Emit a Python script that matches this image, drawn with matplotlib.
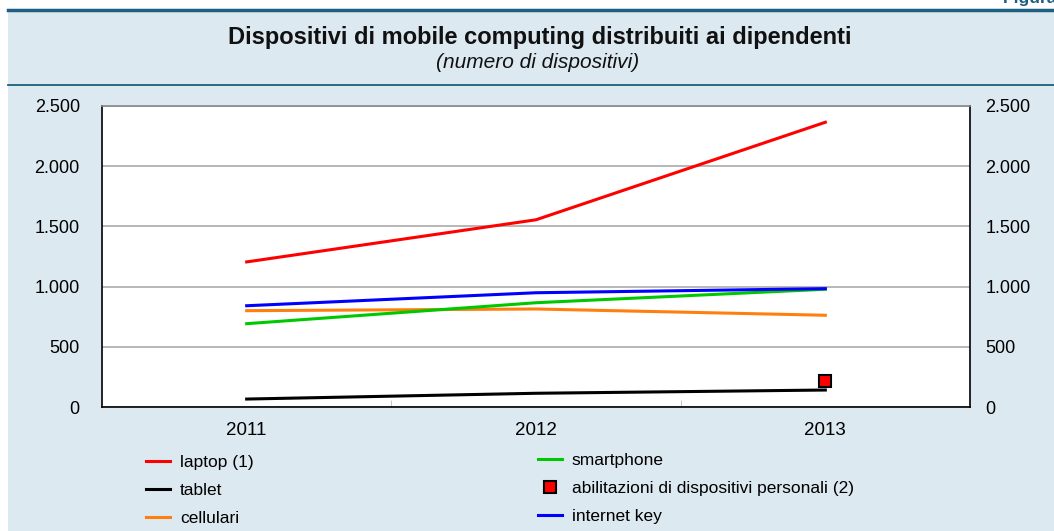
import matplotlib
matplotlib.use("Agg")
import matplotlib.pyplot as plt
from matplotlib.lines import Line2D
from matplotlib.patches import Rectangle

plt.rcParams['font.family'] = ['Liberation Sans', 'DejaVu Sans']

years = ["2011", "2012", "2013"]
laptop = [1205, 1555, 2365]
tablet = [66, 114, 141]
cellulari = [800, 814, 762]
smartphone = [692, 866, 978]
internet_key = [841, 949, 983]
abilitazioni_year = "2013"
abilitazioni = [213]
y_ticks = [0, 500, 1000, 1500, 2000, 2500]
y_tick_labels = ["0", "500", "1.000", "1.500", "2.000", "2.500"]

W, H = 1054, 531
fig = plt.figure(figsize=(W / 100, H / 100), dpi=100)
fig.patch.set_facecolor("white")

teal = "#1d5f80"
bg = "#dde9f1"
# background panel
fig.add_artist(Rectangle((8 / W, 0), 1 - 8 / W, 1 - 10 / H, transform=fig.transFigure,
                         facecolor=bg, edgecolor="none", zorder=-5))
fig.add_artist(Line2D([8 / W, 1], [1 - 10 / H, 1 - 10 / H], transform=fig.transFigure,
                      color=teal, lw=2.5, zorder=-4))
fig.add_artist(Line2D([8 / W, 1], [1 - 84.5 / H, 1 - 84.5 / H], transform=fig.transFigure,
                      color=teal, lw=1.3, zorder=-4))
fig.text(1003 / W, 1 + 1 / H, "Figura 4.", color=teal, fontsize=12.5, fontweight="bold",
         ha="left", va="center")

fig.text(540 / W, 1 - 37 / H, "Dispositivi di mobile computing distribuiti ai dipendenti",
         ha="center", va="center", fontsize=17, fontweight="bold", color="#111111")
fig.text(538 / W, 1 - 62 / H, "(numero di dispositivi)", ha="center", va="center",
         fontsize=15, style="italic", color="#111111")

left, right, top, bottom = 102, 970, 106, 407
ax = fig.add_axes([left / W, 1 - bottom / H, (right - left) / W, (bottom - top) / H])
ax.set_facecolor("white")

x = list(range(len(years)))
lw = 2.2
ax.plot(x, laptop, color="#ff0000", lw=lw, label="laptop (1)", zorder=3)
ax.plot(x, tablet, color="#000000", lw=lw, label="tablet", zorder=3)
ax.plot(x, cellulari, color="#ff7f0e", lw=lw, label="cellulari", zorder=3)
ax.plot(x, smartphone, color="#00c800", lw=lw, label="smartphone", zorder=3)
ax.plot(x, internet_key, color="#0000ff", lw=lw, label="internet key", zorder=4)
ax.plot([years.index(abilitazioni_year)], abilitazioni, linestyle="none", marker="s",
        markersize=8, markerfacecolor="#ff0000", markeredgecolor="#000000", mew=1.5,
        label="abilitazioni di dispositivi personali (2)", zorder=5)

ax.set_xlim(-0.5, len(years) - 0.5)
ax.set_ylim(0, 2500)
ax.set_yticks(y_ticks)
ax.set_yticklabels(y_tick_labels)
ax.set_xticks(x)
ax.set_xticklabels(years)
ax.set_xticks([0.5, 1.5], minor=True)
ax.tick_params(axis="x", which="major", length=0, pad=11, labelsize=13.5)
ax.tick_params(axis="x", which="minor", length=5, direction="in", color="#bbbbbb")
ax.tick_params(axis="y", length=0, pad=16, labelsize=13)
ax.yaxis.grid(True, color="#aaaaaa", lw=1.2)
ax.set_axisbelow(True)
for s in ["left", "bottom", "right"]:
    ax.spines[s].set_color("#000000")
    ax.spines[s].set_linewidth(1.2)
ax.spines["top"].set_color("#888888")
ax.spines["top"].set_linewidth(1.2)

ax2 = ax.twinx()
ax2.set_ylim(0, 2500)
ax2.set_yticks(y_ticks)
ax2.set_yticklabels(y_tick_labels)
ax2.tick_params(axis="y", length=0, pad=11, labelsize=13)
for s in ax2.spines.values():
    s.set_visible(False)

handles, labels = ax.get_legend_handles_labels()
hd = dict(zip(labels, handles))
col1 = ["laptop (1)", "tablet", "cellulari"]
col2 = ["smartphone", "abilitazioni di dispositivi personali (2)", "internet key"]
leg_kw = dict(frameon=False, fontsize=12.5, handlelength=1.4, handletextpad=0.55,
              labelspacing=0.73, borderpad=0, borderaxespad=0)
l1 = fig.legend([hd[k] for k in col1], col1, loc="upper left",
                bbox_to_anchor=(146 / W, 1 - 455 / H), **leg_kw)
l2 = fig.legend([hd[k] for k in col2], col2, loc="upper left",
                bbox_to_anchor=(538 / W, 1 - 453 / H), **leg_kw)

fig.savefig("out.png", dpi=100, facecolor=fig.get_facecolor())
